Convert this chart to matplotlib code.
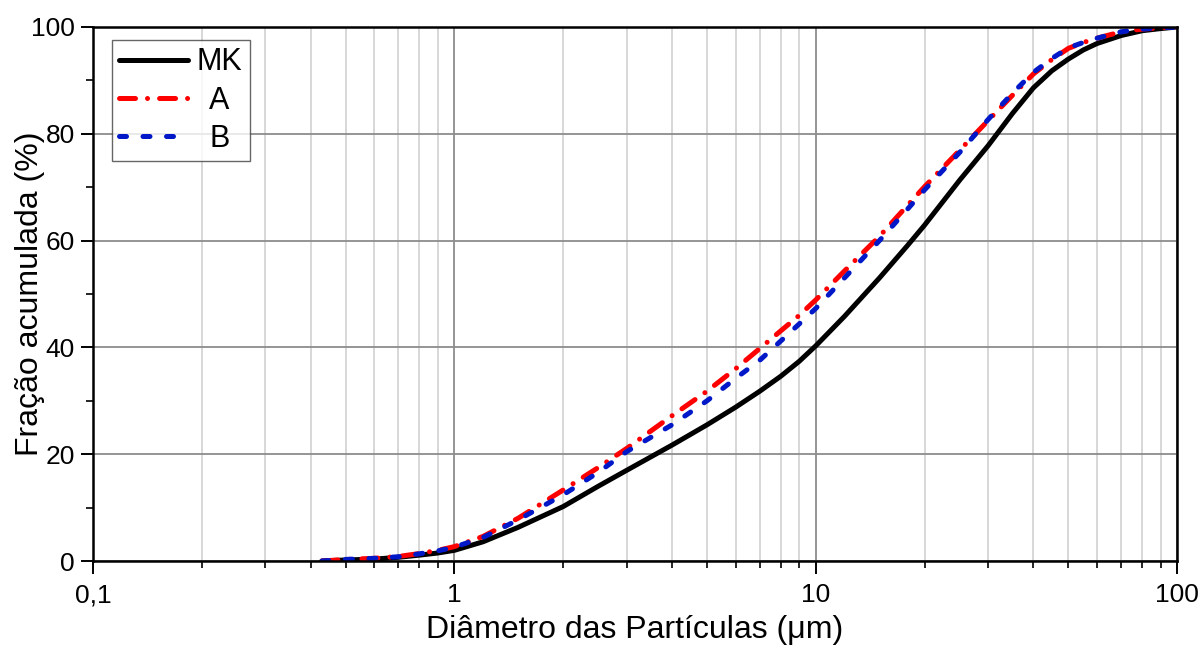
import matplotlib
matplotlib.use("Agg")
import matplotlib.pyplot as plt
from matplotlib.ticker import FixedLocator, FixedFormatter, LogLocator, NullFormatter

plt.rcParams['font.family'] = ['Liberation Sans', 'DejaVu Sans']

# Particle diameter (um) and cumulative fraction (%) for each material
diameter = [0.43, 0.5, 0.6, 0.7, 0.8, 0.9, 1.0, 1.2, 1.5, 2.0, 2.5, 3.0, 4.0, 5.0,
            6.0, 7.0, 8.0, 9.0, 10.0, 12.0, 15.0, 18.0, 20.0, 25.0, 30.0, 35.0,
            40.0, 45.0, 50.0, 55.0, 60.0, 70.0, 80.0, 90.0, 100.0]
mk = [0.0, 0.2, 0.35, 0.7, 1.1, 1.5, 2.0, 3.6, 6.3, 10.2, 14.0, 17.0, 21.7, 25.5,
      28.8, 31.8, 34.6, 37.4, 40.3, 45.8, 53.0, 59.2, 62.9, 71.3, 77.8, 83.8,
      88.6, 91.8, 94.0, 95.7, 96.9, 98.4, 99.3, 99.7, 100.0]
serie_a = [0.0, 0.3, 0.5, 0.85, 1.4, 2.0, 2.7, 4.6, 8.0, 13.3, 17.5, 21.1, 27.2, 31.8,
           36.0, 39.8, 43.1, 46.0, 48.9, 54.3, 60.8, 66.7, 70.1, 76.9, 82.5, 87.2,
           91.2, 93.9, 96.0, 97.1, 97.9, 99.1, 99.6, 99.85, 100.0]
serie_b = [0.0, 0.3, 0.5, 0.8, 1.35, 1.9, 2.6, 4.4, 7.7, 12.4, 16.6, 20.5, 25.5, 30.0,
           34.2, 37.6, 41.2, 44.4, 47.3, 53.0, 60.0, 66.0, 69.5, 76.5, 82.7, 87.6,
           91.5, 94.1, 96.1, 97.1, 97.9, 99.1, 99.6, 99.85, 100.0]

x_ticks = [0.1, 1, 10, 100]
x_tick_labels = ["0,1", "1", "10", "100"]
y_ticks = [0, 20, 40, 60, 80, 100]
y_tick_labels = ["0", "20", "40", "60", "80", "100"]

fig = plt.figure(figsize=(12, 6.5), dpi=100)
ax = fig.add_axes([0.0775, 0.1369, 0.9035, 0.8216])

lw = 3.6
ax.plot(diameter, mk, color='black', lw=lw, solid_capstyle='round',
        solid_joinstyle='round', label='MK', zorder=3)
ax.plot(diameter, serie_a, color='#ff0000', lw=lw, dashes=(3.2, 2.4, 0.01, 2.4),
        dash_capstyle='round', dash_joinstyle='round', label='A', zorder=4)
ax.plot(diameter, serie_b, color='#0018c8', lw=lw, dashes=(1.4, 3.3),
        dash_capstyle='round', dash_joinstyle='round', label='B', zorder=5)

ax.set_xscale('log')
ax.set_xlim(0.1, 100)
ax.set_ylim(0, 100)

ax.xaxis.set_major_locator(FixedLocator(x_ticks))
ax.xaxis.set_major_formatter(FixedFormatter(x_tick_labels))
ax.xaxis.set_minor_locator(LogLocator(base=10, subs=range(2, 10)))
ax.xaxis.set_minor_formatter(NullFormatter())
ax.yaxis.set_major_locator(FixedLocator(y_ticks))
ax.yaxis.set_major_formatter(FixedFormatter(y_tick_labels))
ax.yaxis.set_minor_locator(FixedLocator([10, 30, 50, 70, 90]))

ax.grid(which='major', color='#8c8c8c', lw=1.3, zorder=0)
ax.grid(which='minor', axis='x', color='#d4d4d4', lw=1.3, zorder=0)
ax.set_axisbelow(True)

ax.tick_params(which='major', direction='out', length=9, width=1.4,
               labelsize=19, color='black')
ax.tick_params(axis='y', which='major', pad=4)
ax.tick_params(axis='x', which='major', pad=7)
ax.tick_params(which='minor', direction='out', length=5, width=1.2, color='black')
for s in ax.spines.values():
    s.set_linewidth(1.8)
    s.set_color('black')
    s.set_zorder(6)

ax.set_xlabel('Diâmetro das Partículas (μm)', fontsize=23)
ax.set_ylabel('Fração acumulada (%)', fontsize=23)
ax.xaxis.set_label_coords(0.5, -0.101)
ax.yaxis.set_label_coords(-0.044, 0.5)

leg = ax.legend(loc='upper left', bbox_to_anchor=(0.0175, 0.9757), borderaxespad=0,
                fontsize=22, frameon=True, fancybox=False, handlelength=2.25,
                handletextpad=0.28, labelspacing=0.27, borderpad=0.24)
leg.get_frame().set_edgecolor('#404040')
leg.get_frame().set_linewidth(1.0)
leg.set_zorder(10)

# center the labels on the widest one
fig.canvas.draw()
renderer = fig.canvas.get_renderer()
texts = leg.get_texts()
widths = [t.get_window_extent(renderer).width for t in texts]
wmax = max(widths)
for t, w in zip(texts, widths):
    t.set_x((wmax - w) / 2)

fig.savefig('out.png', dpi=100)
